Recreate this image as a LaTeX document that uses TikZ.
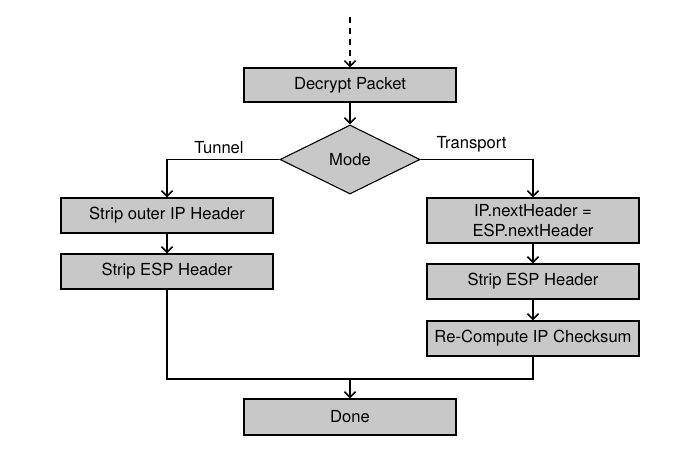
\documentclass[tikz,border=0pt]{standalone}
\usepackage{fontspec}
\setmainfont{TeX Gyre Heros}
\usetikzlibrary{arrows.meta,shapes.geometric}
\definecolor{boxgray}{RGB}{200,200,200}
\begin{document}
\begin{tikzpicture}[x=0.5pt,y=-0.5pt,
  every node/.style={font=\fontsize{8.3}{10}\selectfont},
  procbox/.style={draw=black,line width=0.55pt,fill=boxgray,minimum width=106pt,inner sep=0pt,align=center},
  decision/.style={diamond,draw=black,line width=0.55pt,fill=boxgray,minimum width=70pt,minimum height=34.5pt,inner sep=0pt,aspect=2},
  conn/.style={line width=0.8pt,-{Straight Barb[length=2.8pt,width=5.6pt,line width=0.8pt]}},
  plainconn/.style={line width=0.8pt}]
\useasboundingbox (0,0) rectangle (696,468);
\coordinate (start) at (350,17);
\node[procbox,minimum height=17pt] (decrypt) at (350,85) {Decrypt Packet};
\node[decision] (mode) at (350,159.5) {Mode};
\node[procbox,minimum height=17.5pt] (stripouter) at (167,215.5) {Strip outer IP Header};
\node[procbox,minimum height=17.5pt] (stripespL) at (167,271.5) {Strip ESP Header};
\node[procbox,minimum height=22.5pt] (nexthdr) at (533,220.5) {IP.nextHeader =\\ESP.nextHeader};
\node[procbox,minimum height=17.5pt] (stripespR) at (533,281.5) {Strip ESP Header};
\node[procbox,minimum height=17.5pt] (recompute) at (533,338.5) {Re-Compute IP Checksum};
\node[procbox,minimum height=18pt] (done) at (350,417) {Done};
\coordinate (merge) at (350,379);
\node[anchor=base] (tunnel) at (219,153) {Tunnel};
\node[anchor=base] (transport) at (471.5,148.5) {Transport};
\draw[conn,dash pattern=on 3pt off 2.5pt] (start) -- (decrypt.north);
\draw[conn] (decrypt) -- (mode.north);
\draw[conn] (mode.west) -| (stripouter.north);
\draw[conn] (mode.east) -| (nexthdr.north);
\draw[conn] (stripouter) -- (stripespL);
\draw[conn] (nexthdr) -- (stripespR);
\draw[conn] (stripespR) -- (recompute);
\draw[plainconn] (stripespL.south) |- (merge) -| (recompute.south);
\draw[conn] (merge) -- (done.north);
\end{tikzpicture}
\end{document}
